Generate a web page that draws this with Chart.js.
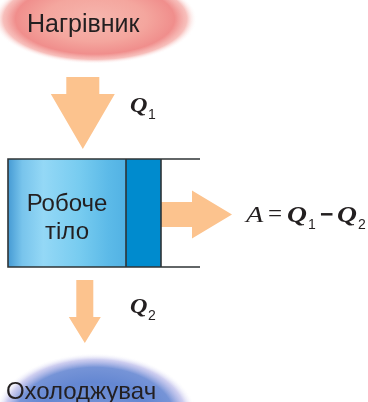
<!DOCTYPE html>
<html>
<head>
<meta charset="utf-8">
<script src="https://cdn.jsdelivr.net/npm/chart.js@4.4.1/dist/chart.umd.min.js"></script>
<style>
  html, body { margin: 0; padding: 0; background: #fff; }
  #wrap { width: 368px; height: 402px; }
</style>
</head>
<body>
<div id="wrap"><canvas id="schema"></canvas></div>
<script>
// Підписи схеми теплового двигуна
const dzherela = ["Нагрівник", "Охолоджувач"];
const robocheTilo = ["Робоче", "тіло"];
// Потоки енергії: позначення та індекс
const potokyNazvy = ["Q", "Q", "A"];
const potokyIndeksy = ["1", "2", ""];
// Формула роботи: [символ, тип]
const formula = [["A", "it"], ["=", "rm"], ["Q", "bi"], ["1", "sub"], ["−", "op"], ["Q", "bi"], ["2", "sub"]];

// Розмітка у координатах осей (0..368 по x, 0..402 по y зверху вниз)
const layout = {
  nagrivnyk: { cx: 95, cy: 19, rx: 102, ry: 45, textX: 27, textY: 31.5 },
  okholodzhuvach: { cx: 95, cy: 418, rx: 102, ry: 65, textX: 6, textY: 399 },
  cylinder: { left: 8, top: 159, bottom: 267, piston: 126, pistonRight: 161, lineEnd: 200 },
  arrows: [
    { dir: "down", c: 82.8, from: 77, to: 149, shaft: 33, head: 64, headLen: 55 },
    { dir: "down", c: 84.8, from: 280, to: 343, shaft: 17, head: 32, headLen: 26 },
    { dir: "right", c: 214.5, from: 161, to: 232, shaft: 25, head: 48, headLen: 40 }
  ],
  flowLabels: [{ x: 130, y: 112, sub: 148 }, { x: 130, y: 313, sub: 148 }],
  formulaX: [246, 268, 287, 308, 320, 337, 358],
  formulaY: 221.5
};

const textColor = "#231f20";
const arrowColor = "#fcc38e";
const sans = "'Liberation Sans', Arial, sans-serif";
const serif = "'Liberation Serif', 'Times New Roman', serif";

function glow(ctx, cx, cy, rx, ry, stops) {
  ctx.save();
  ctx.translate(cx, cy);
  ctx.scale(1, ry / rx);
  const g = ctx.createRadialGradient(0, 0, 0, 0, 0, rx);
  stops.forEach(([o, c]) => g.addColorStop(o, c));
  ctx.fillStyle = g;
  ctx.beginPath();
  ctx.arc(0, 0, rx, 0, Math.PI * 2);
  ctx.fill();
  ctx.restore();
}

// широкі курсивні літери, як у підручнику
function wideText(ctx, s, x, y, f) {
  ctx.save();
  ctx.translate(x, y);
  ctx.scale(f, 1);
  ctx.fillText(s, 0, 0);
  ctx.restore();
}

const schemaPlugin = {
  id: "schema",
  beforeDatasetsDraw(chart) {
    const ctx = chart.ctx;
    const sx = chart.scales.x, sy = chart.scales.y;
    const px = (v) => sx.getPixelForValue(v);
    const py = (v) => sy.getPixelForValue(v);
    const k = (v) => px(v) - px(0);

    // Нагрівник (червоне світіння)
    const n = layout.nagrivnyk;
    glow(ctx, px(n.cx), py(n.cy), k(n.rx), k(n.ry), [
      [0, "rgb(246,182,174)"],
      [0.5, "rgb(244,166,158)"],
      [0.78, "rgb(240,142,140)"],
      [0.9, "rgba(244,165,160,0.7)"],
      [1, "rgba(255,255,255,0)"]
    ]);

    // Охолоджувач (синє світіння)
    const o = layout.okholodzhuvach;
    glow(ctx, px(o.cx), py(o.cy), k(o.rx), k(o.ry), [
      [0, "rgb(120,150,215)"],
      [0.55, "rgb(100,135,210)"],
      [0.78, "rgb(118,148,215)"],
      [0.9, "rgba(180,180,232,0.65)"],
      [1, "rgba(255,255,255,0)"]
    ]);

    // Стрілки потоків
    ctx.fillStyle = arrowColor;
    layout.arrows.forEach((a) => {
      const hs = a.to - a.headLen;
      ctx.beginPath();
      if (a.dir === "down") {
        ctx.moveTo(px(a.c - a.shaft / 2), py(a.from));
        ctx.lineTo(px(a.c + a.shaft / 2), py(a.from));
        ctx.lineTo(px(a.c + a.shaft / 2), py(hs));
        ctx.lineTo(px(a.c + a.head / 2), py(hs));
        ctx.lineTo(px(a.c), py(a.to));
        ctx.lineTo(px(a.c - a.head / 2), py(hs));
        ctx.lineTo(px(a.c - a.shaft / 2), py(hs));
      } else {
        ctx.moveTo(px(a.from), py(a.c - a.shaft / 2));
        ctx.lineTo(px(hs), py(a.c - a.shaft / 2));
        ctx.lineTo(px(hs), py(a.c - a.head / 2));
        ctx.lineTo(px(a.to), py(a.c));
        ctx.lineTo(px(hs), py(a.c + a.head / 2));
        ctx.lineTo(px(hs), py(a.c + a.shaft / 2));
        ctx.lineTo(px(a.from), py(a.c + a.shaft / 2));
      }
      ctx.closePath();
      ctx.fill();
    });

    // Циліндр з робочим тілом і поршнем
    const c = layout.cylinder;
    const L = px(c.left), T = py(c.top), B = py(c.bottom), P = px(c.piston), PR = px(c.pistonRight);
    const g = ctx.createLinearGradient(L, 0, P, 0);
    g.addColorStop(0, "rgb(70,155,212)");
    g.addColorStop(0.12, "rgb(120,196,236)");
    g.addColorStop(0.3, "rgb(148,216,246)");
    g.addColorStop(0.6, "rgb(120,204,240)");
    g.addColorStop(0.85, "rgb(92,186,232)");
    g.addColorStop(1, "rgb(82,178,228)");
    ctx.fillStyle = g;
    ctx.fillRect(L, T, P - L, B - T);
    ctx.fillStyle = "rgb(0,139,206)";
    ctx.fillRect(P, T, PR - P, B - T);
    ctx.strokeStyle = "#2f3436";
    ctx.lineWidth = 1.6;
    ctx.beginPath();
    ctx.moveTo(px(c.lineEnd), T);
    ctx.lineTo(L, T);
    ctx.lineTo(L, B);
    ctx.lineTo(px(c.lineEnd), B);
    ctx.moveTo(P, T);
    ctx.lineTo(P, B);
    ctx.moveTo(PR, T);
    ctx.lineTo(PR, B);
    ctx.stroke();

    // Підписи
    ctx.fillStyle = textColor;
    ctx.textBaseline = "alphabetic";
    ctx.textAlign = "left";
    ctx.font = "25px " + sans;
    ctx.fillText(dzherela[0], px(n.textX), py(n.textY));
    ctx.font = "24px " + sans;
    ctx.fillText(dzherela[1], px(o.textX), py(o.textY));
    ctx.textAlign = "center";
    const mid = (c.left + c.piston) / 2;
    ctx.fillText(robocheTilo[0], px(mid), py(210.5));
    ctx.fillText(robocheTilo[1], px(mid), py(239));
    ctx.textAlign = "left";

    // Q1, Q2 біля стрілок
    layout.flowLabels.forEach((l, i) => {
      ctx.font = "italic bold 22px " + serif;
      wideText(ctx, potokyNazvy[i], px(l.x), py(l.y), 1.1);
      ctx.font = "14px " + sans;
      ctx.fillText(potokyIndeksy[i], px(l.sub), py(l.y + 7));
    });

    // Формула A = Q1 − Q2
    const fy = py(layout.formulaY);
    formula.forEach(([s, t], i) => {
      const x = px(layout.formulaX[i]);
      if (t === "it") {
        ctx.font = "italic 24px " + serif;
        wideText(ctx, s, x, fy, 1.18);
      } else if (t === "bi") {
        ctx.font = "italic bold 24px " + serif;
        wideText(ctx, s, x, fy, 1.15);
      } else if (t === "rm") {
        ctx.font = "25px " + serif;
        ctx.fillText(s, x, fy);
      } else if (t === "op") {
        ctx.font = "bold 23px " + sans;
        ctx.fillText(s, x, fy);
      } else {
        ctx.font = "14px " + sans;
        ctx.fillText(s, x, fy + 7);
      }
    });
  }
};

new Chart(document.getElementById("schema"), {
  type: "scatter",
  data: { datasets: [{ data: [], pointRadius: 0 }] },
  options: {
    responsive: true,
    maintainAspectRatio: false,
    animation: false,
    layout: { padding: 0 },
    plugins: { legend: { display: false }, tooltip: { enabled: false } },
    scales: {
      x: { type: "linear", min: 0, max: 368, display: false },
      y: { type: "linear", min: 0, max: 402, reverse: true, display: false }
    }
  },
  plugins: [schemaPlugin]
});
</script>
</body>
</html>
